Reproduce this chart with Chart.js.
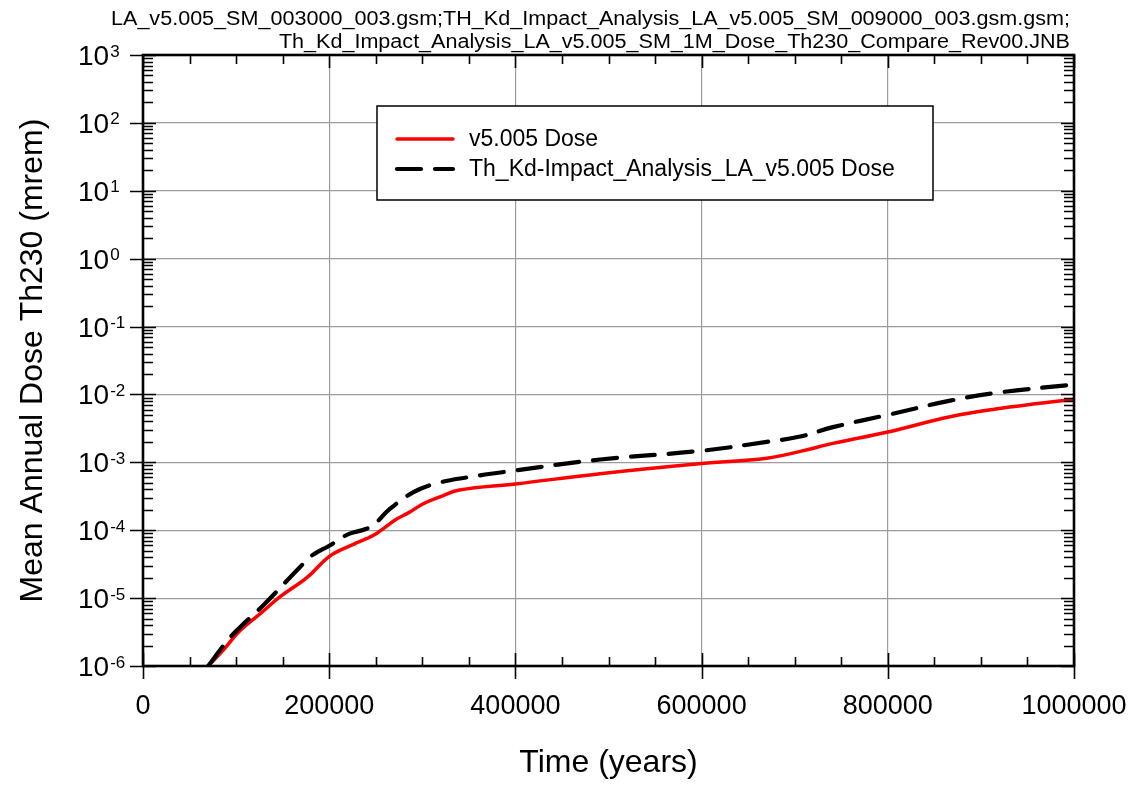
<!DOCTYPE html>
<html>
<head>
<meta charset="utf-8">
<title>Mean Annual Dose Th230</title>
<script src="https://cdn.jsdelivr.net/npm/chart.js@4.4.1/dist/chart.umd.min.js"></script>
<style>
  html, body { margin: 0; padding: 0; background: #fff; }
  #wrap { width: 1133px; height: 785px; }
</style>
</head>
<body>
<div id="wrap"><canvas id="doseChart" width="1133" height="785"></canvas></div>
<script>
const titleLines = [
  'LA_v5.005_SM_003000_003.gsm;TH_Kd_Impact_Analysis_LA_v5.005_SM_009000_003.gsm.gsm;',
  'Th_Kd_Impact_Analysis_LA_v5.005_SM_1M_Dose_Th230_Compare_Rev00.JNB'
];
const xAxisTitle = 'Time (years)';
const yAxisTitle = 'Mean Annual Dose Th230 (mrem)';
const xTickValues = [0, 200000, 400000, 600000, 800000, 1000000];
const yDecades = [-6, -5, -4, -3, -2, -1, 0, 1, 2, 3];

// v5.005 base case
const baseLabel = 'v5.005 Dose';
const baseYears = [70000, 86000, 104000, 126000, 147000, 176000, 201000, 226000, 240000, 250000,
  260000, 272000, 285000, 301000, 319000, 340000, 400000, 491000, 600000, 670000,
  706000, 741000, 800000, 867000, 920000, 1000000];
const baseDose = [1.0e-6, 1.7e-6, 3.3e-6, 5.9e-6, 1.04e-5, 2.0e-5, 4.2e-5, 6.2e-5, 7.5e-5, 8.8e-5,
  1.1e-4, 1.45e-4, 1.8e-4, 2.45e-4, 3.1e-4, 3.9e-4, 4.8e-4, 6.8e-4, 9.6e-4, 1.15e-3,
  1.45e-3, 1.9e-3, 2.8e-3, 4.7e-3, 6.2e-3, 8.5e-3];

// Th Kd impact analysis case
const thKdLabel = 'Th_Kd-Impact_Analysis_LA_v5.005 Dose';
const thKdYears = [70000, 91000, 104000, 129000, 169000, 181000, 201000, 212000, 222000, 240000,
  251000, 264000, 290000, 315000, 348000, 400000, 491000, 600000, 670000, 706000,
  741000, 800000, 867000, 920000, 1000000];
const thKdDose = [1.0e-6, 2.4e-6, 3.7e-6, 7.8e-6, 2.9e-5, 4.2e-5, 6.0e-5, 7.5e-5, 8.9e-5, 1.05e-4,
  1.32e-4, 2.0e-4, 3.6e-4, 4.9e-4, 6.0e-4, 7.6e-4, 1.1e-3, 1.48e-3, 2.0e-3, 2.4e-3,
  3.3e-3, 5.0e-3, 8.1e-3, 1.07e-2, 1.4e-2];

const FONT = '"Liberation Sans", Arial, Helvetica, sans-serif';
const GRID = '#9c9c9c';

function toPoints(xs, ys) {
  return xs.map((x, i) => ({ x: x, y: ys[i] }));
}

// frame, inward/outward tick marks, labels, titles and legend box
const decorations = {
  id: 'decorations',
  afterDraw(chart) {
    const ctx = chart.ctx;
    const a = chart.chartArea;
    const xs = chart.scales.x;
    const ys = chart.scales.y;
    ctx.save();

    // tick marks
    ctx.strokeStyle = '#000';
    ctx.lineWidth = 1.6;
    ctx.beginPath();
    for (let t = 0; t <= 1000000; t += 50000) {
      const px = Math.round(xs.getPixelForValue(t)) + 0.5;
      const major = t % 200000 === 0;
      const len = major ? 13 : 9;
      ctx.moveTo(px, a.bottom); ctx.lineTo(px, a.bottom - len);
      ctx.moveTo(px, a.top); ctx.lineTo(px, a.top + len);
      if (major) { ctx.moveTo(px, a.bottom); ctx.lineTo(px, a.bottom + 13); }
    }
    yDecades.forEach(d => {
      const py = Math.round(ys.getPixelForValue(Math.pow(10, d))) + 0.5;
      ctx.moveTo(a.left - 13, py); ctx.lineTo(a.left + 13, py);
      ctx.moveTo(a.right, py); ctx.lineTo(a.right - 13, py);
      if (d < 3) {
        for (let k = 2; k <= 9; k++) {
          const my = Math.round(ys.getPixelForValue(k * Math.pow(10, d))) + 0.5;
          ctx.moveTo(a.left, my); ctx.lineTo(a.left + 10, my);
          ctx.moveTo(a.right, my); ctx.lineTo(a.right - 10, my);
        }
      }
    });
    ctx.stroke();

    // plot frame
    ctx.lineWidth = 2.6;
    ctx.strokeRect(a.left, a.top, a.right - a.left, a.bottom - a.top);

    // y tick labels as powers of ten
    ctx.fillStyle = '#000';
    ctx.textAlign = 'left';
    ctx.textBaseline = 'alphabetic';
    yDecades.forEach(d => {
      const py = ys.getPixelForValue(Math.pow(10, d));
      ctx.font = '28px ' + FONT;
      ctx.fillText('10', 78, py + 10);
      const w = ctx.measureText('10').width;
      ctx.font = '17px ' + FONT;
      ctx.fillText(String(d), 78 + w + 1, py + 1.5);
    });

    // axis titles
    ctx.font = '32px ' + FONT;
    ctx.textAlign = 'center';
    ctx.fillText(xAxisTitle, (a.left + a.right) / 2, 772);
    ctx.save();
    ctx.translate(42, (a.top + a.bottom) / 2);
    ctx.rotate(-Math.PI / 2);
    ctx.fillText(yAxisTitle, 0, 0);
    ctx.restore();

    // two-line header, right aligned
    ctx.font = '20px ' + FONT;
    const sx = (1070 - 111) / ctx.measureText(titleLines[0]).width;
    ctx.textAlign = 'right';
    [25, 48].forEach((base, i) => {
      ctx.save();
      ctx.translate(1070, base);
      ctx.scale(sx, 1);
      ctx.fillText(titleLines[i], 0, 0);
      ctx.restore();
    });

    // legend
    const box = { x: 377, y: 106, w: 556, h: 94 };
    ctx.fillStyle = '#fff';
    ctx.fillRect(box.x, box.y, box.w, box.h);
    ctx.strokeStyle = '#000';
    ctx.lineWidth = 1.5;
    ctx.strokeRect(box.x, box.y, box.w, box.h);
    const rows = [139, 169];
    chart.data.datasets.forEach((ds, i) => {
      ctx.save();
      ctx.strokeStyle = ds.borderColor;
      ctx.lineWidth = ds.borderWidth;
      ctx.lineCap = 'round';
      ctx.setLineDash(ds.borderDash || []);
      ctx.beginPath();
      ctx.moveTo(397, rows[i]);
      ctx.lineTo(453, rows[i]);
      ctx.stroke();
      ctx.restore();
      ctx.fillStyle = '#000';
      ctx.font = '23px ' + FONT;
      ctx.textAlign = 'left';
      ctx.textBaseline = 'middle';
      ctx.fillText(ds.label, 469, rows[i] + 1);
    });

    ctx.restore();
  }
};

new Chart(document.getElementById('doseChart'), {
  type: 'line',
  data: {
    datasets: [
      {
        label: baseLabel,
        data: toPoints(baseYears, baseDose),
        borderColor: '#ff0000',
        borderWidth: 3.5,
        pointRadius: 0,
        tension: 0.4,
        order: 1
      },
      {
        label: thKdLabel,
        data: toPoints(thKdYears, thKdDose),
        borderColor: '#000000',
        borderWidth: 4.2,
        borderDash: [24, 14],
        borderCapStyle: 'round',
        pointRadius: 0,
        tension: 0.4,
        order: 0
      }
    ]
  },
  options: {
    responsive: false,
    animation: false,
    devicePixelRatio: 1,
    layout: { padding: { left: 0, top: 55, right: 59, bottom: 0 } },
    plugins: {
      legend: { display: false },
      title: { display: false },
      tooltip: { enabled: false }
    },
    scales: {
      x: {
        type: 'linear',
        min: 0,
        max: 1000000,
        afterBuildTicks: scale => { scale.ticks = xTickValues.map(v => ({ value: v })); },
        afterFit: scale => {
          scale.height = 119;
          scale.paddingLeft = 0;
          scale.paddingRight = 0;
        },
        ticks: {
          color: '#000',
          padding: 24,
          maxRotation: 0,
          font: { family: FONT, size: 27 },
          callback: v => String(v)
        },
        grid: { color: GRID, lineWidth: 1.2, drawTicks: false },
        border: { display: false }
      },
      y: {
        type: 'logarithmic',
        min: 1e-6,
        max: 1e3,
        afterBuildTicks: scale => { scale.ticks = yDecades.map(d => ({ value: Math.pow(10, d), major: true })); },
        afterFit: scale => {
          scale.width = 143;
          scale.paddingTop = 0;
          scale.paddingBottom = 0;
        },
        ticks: { display: false },
        grid: { color: GRID, lineWidth: 1.2, drawTicks: false },
        border: { display: false }
      }
    }
  },
  plugins: [decorations]
});
</script>
</body>
</html>
